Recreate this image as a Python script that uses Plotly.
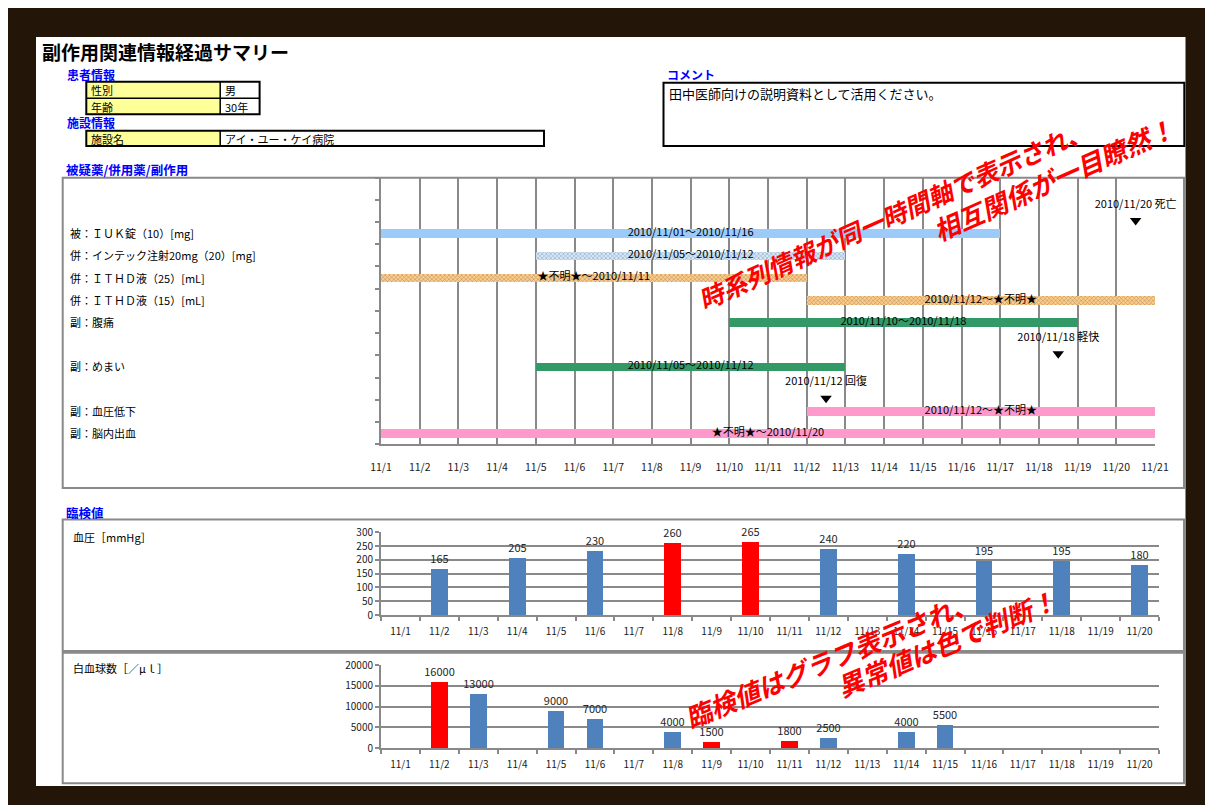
import plotly.graph_objects as go

# ---------------- data ----------------
title_text = "副作用関連情報経過サマリー"
patient_fields = ["性別", "年齢"]
patient_values = ["男", "30年"]
facility_fields = ["施設名"]
facility_values = ["アイ・ユー・ケイ病院"]
comment_text = "田中医師向けの説明資料として活用ください。"

# timeline rows (top to bottom); blank rows hold event markers
row_labels = ["", "", "被：ＩＵＫ錠（10）[mg]", "併：インテック注射20mg（20）[mg]",
              "併：ＩＴＨＤ液（25）[mL]", "併：ＩＴＨＤ液（15）[mL]", "副：腹痛", "",
              "副：めまい", "", "副：血圧低下", "副：脳内出血"]
bar_rows = ["被：ＩＵＫ錠（10）[mg]", "併：インテック注射20mg（20）[mg]",
            "併：ＩＴＨＤ液（25）[mL]", "併：ＩＴＨＤ液（15）[mL]", "副：腹痛",
            "副：めまい", "副：血圧低下", "副：脳内出血"]
bar_start_day = [1, 5, 1, 12, 10, 5, 12, 1]      # 11/x (unknown start -> 11/1)
bar_end_day = [16, 12, 11, 20, 18, 12, 20, 20]   # 11/x inclusive (unknown end -> 11/20)
bar_texts = ["2010/11/01～2010/11/16", "2010/11/05～2010/11/12", "★不明★～2010/11/11",
             "2010/11/12～★不明★", "2010/11/10～2010/11/18", "2010/11/05～2010/11/12",
             "2010/11/12～★不明★", "★不明★～2010/11/20"]

event_days = [20, 18, 12]
event_row_index = [1, 7, 9]
event_texts = ["2010/11/20 死亡", "2010/11/18 軽快", "2010/11/12 回復"]

timeline_ticks = ["11/1", "11/2", "11/3", "11/4", "11/5", "11/6", "11/7", "11/8", "11/9",
                  "11/10", "11/11", "11/12", "11/13", "11/14", "11/15", "11/16", "11/17",
                  "11/18", "11/19", "11/20", "11/21"]
timeline_tick_days = [1, 2, 3, 4, 5, 6, 7, 8, 9, 10, 11, 12, 13, 14, 15, 16, 17, 18, 19, 20, 21]

lab_dates = ["11/1", "11/2", "11/3", "11/4", "11/5", "11/6", "11/7", "11/8", "11/9", "11/10",
             "11/11", "11/12", "11/13", "11/14", "11/15", "11/16", "11/17", "11/18", "11/19", "11/20"]

bp_title = "血圧［mmHg］"
bp_dates = ["11/2", "11/4", "11/6", "11/8", "11/10", "11/12", "11/14", "11/16", "11/18", "11/20"]
bp_values = [165, 205, 230, 260, 265, 240, 220, 195, 195, 180]
bp_abnormal = [False, False, False, True, True, False, False, False, False, False]

wbc_title = "白血球数［／μｌ］"
wbc_dates = ["11/2", "11/3", "11/5", "11/6", "11/8", "11/9", "11/11", "11/12", "11/14", "11/15"]
wbc_values = [16000, 13000, 9000, 7000, 4000, 1500, 1800, 2500, 4000, 5500]
wbc_abnormal = [True, False, False, False, False, True, True, False, False, False]

callout_top = ["時系列情報が同一時間軸で表示され、", "相互関係が一目瞭然！"]
callout_bottom = ["臨検値はグラフ表示され、", "異常値は色で判断！"]

# ---------------- style ----------------
W, H = 1205, 797
OX, OY = 8, 8
def px(x): return (x - OX) / W
def py(y): return 1 - (y - OY) / H

FONT = "Noto Sans CJK JP"
BROWN = "#231507"
GRID = "#898989"
LINK = "#0000FF"
BAR_BLUE = "#4F81BD"
BAR_RED = "#FF0000"
bar_colors = ["#9DCBF9", "#D3E8FD", "#FFCC88", "#FFCC88", "#339966", "#339966", "#FF99CC", "#FF99CC"]
bar_patterns = ["", "x", "x", "x", "", "", "", ""]
bar_pattern_fg = ["#9DCBF9", "#C2DDF8", "#F7BE72", "#F7BE72", "#339966", "#339966", "#FF99CC", "#FF99CC"]

fig = go.Figure()

n_rows = len(row_labels)
def row_y(i): return n_rows - i - 0.5

bar_y = [row_y(row_labels.index(r)) for r in bar_rows]
bar_len = [e + 1 - s for s, e in zip(bar_start_day, bar_end_day)]

fig.add_trace(go.Bar(
    orientation="h", y=bar_y, x=bar_len, base=bar_start_day, width=0.38,
    marker=dict(color=bar_colors, line=dict(width=0),
                pattern=dict(shape=bar_patterns, fgcolor=bar_pattern_fg, fillmode="overlay",
                             size=3, solidity=0.3)),
    xaxis="x", yaxis="y", hoverinfo="skip"))

fig.add_trace(go.Scatter(
    x=[s + l / 2 for s, l in zip(bar_start_day, bar_len)], y=bar_y, mode="text",
    text=bar_texts, textfont=dict(size=11, color="black", family=FONT),
    cliponaxis=False, xaxis="x", yaxis="y", hoverinfo="skip"))

fig.add_trace(go.Scatter(
    x=[d + 0.5 for d in event_days], y=[row_y(i) - 0.43 for i in event_row_index],
    mode="markers", marker=dict(symbol="triangle-down", size=10, color="black"),
    cliponaxis=False, xaxis="x", yaxis="y", hoverinfo="skip"))
fig.add_trace(go.Scatter(
    x=[d + 0.5 for d in event_days], y=[row_y(i) + 0.27 for i in event_row_index],
    mode="text", text=event_texts, textfont=dict(size=11, color="black", family=FONT),
    cliponaxis=False, xaxis="x", yaxis="y", hoverinfo="skip"))

fig.add_trace(go.Bar(
    x=bp_dates, y=bp_values, width=0.43,
    marker=dict(color=[BAR_RED if a else BAR_BLUE for a in bp_abnormal], line=dict(width=0)),
    text=bp_values, textposition="outside", constraintext="none", cliponaxis=False,
    textfont=dict(size=11, color="#262626", family=FONT),
    xaxis="x2", yaxis="y2", hoverinfo="skip"))

fig.add_trace(go.Bar(
    x=wbc_dates, y=wbc_values, width=0.43,
    marker=dict(color=[BAR_RED if a else BAR_BLUE for a in wbc_abnormal], line=dict(width=0)),
    text=wbc_values, textposition="outside", constraintext="none", cliponaxis=False,
    textfont=dict(size=11, color="#262626", family=FONT),
    xaxis="x3", yaxis="y3", hoverinfo="skip"))

common_lab_x = dict(type="category", categoryorder="array", categoryarray=lab_dates,
                    range=[-0.5, len(lab_dates) - 0.5], tickson="boundaries", ticks="outside",
                    ticklen=4, tickcolor=GRID, tickwidth=1.5, showline=True, linecolor=GRID,
                    linewidth=2, showgrid=False, zeroline=False, ticklabelstandoff=6,
                    tickfont=dict(size=10, color="#1a1a1a", family=FONT), fixedrange=True,
                    domain=[px(381), px(1159)], automargin=False)
common_lab_y = dict(showgrid=True, gridcolor=GRID, gridwidth=2, ticks="outside", ticklen=4,
                    tickcolor=GRID, tickwidth=1.5, showline=True, linecolor=GRID, linewidth=2,
                    zeroline=False, tickfont=dict(size=10, color="#1a1a1a", family=FONT),
                    tickformat="d", fixedrange=True, automargin=False)

fig.update_layout(
    width=W, height=H, margin=dict(l=0, r=0, t=0, b=0, pad=0, autoexpand=False),
    paper_bgcolor=BROWN, plot_bgcolor="rgba(0,0,0,0)", showlegend=False,
    font=dict(family=FONT, color="black"), bargap=0,
    xaxis=dict(domain=[px(381), px(1155)], range=[1, 21], tickmode="array",
               tickvals=timeline_tick_days, ticktext=timeline_ticks, showgrid=True,
               gridcolor=GRID, gridwidth=2, showline=True, linecolor=GRID, linewidth=2,
               ticks="outside", ticklen=12, tickcolor="rgba(0,0,0,0)", zeroline=False,
               tickfont=dict(size=10.5, color="#1a1a1a", family=FONT), anchor="y",
               fixedrange=True, automargin=False),
    yaxis=dict(domain=[py(444.3), py(177.5)], range=[0, n_rows], tickmode="array",
               tickvals=list(range(0, n_rows + 1)), ticks="outside", ticklen=4,
               tickcolor=GRID, tickwidth=1.5, showticklabels=False, showgrid=False,
               showline=True, linecolor=GRID, linewidth=2, zeroline=False, anchor="x",
               fixedrange=True, automargin=False),
    xaxis2=dict(anchor="y2", **common_lab_x),
    yaxis2=dict(anchor="x2", domain=[py(615), py(532.3)], range=[0, 300],
                tickvals=[0, 50, 100, 150, 200, 250, 300], **common_lab_y),
    xaxis3=dict(anchor="y3", **common_lab_x),
    yaxis3=dict(anchor="x3", domain=[py(748.3), py(665)], range=[0, 20000],
                tickvals=[0, 5000, 10000, 15000, 20000], **common_lab_y),
)

shapes = []
def rect(x0, y0, x1, y1, line_color=None, width=0, fill=None):
    shapes.append(dict(type="rect", xref="paper", yref="paper", x0=px(x0), x1=px(x1),
                       y0=py(y1), y1=py(y0), layer="below",
                       line=dict(color=line_color or "rgba(0,0,0,0)", width=width),
                       fillcolor=fill or "rgba(0,0,0,0)"))
def hline(x0, x1, y, color, width):
    shapes.append(dict(type="line", xref="paper", yref="paper", x0=px(x0), x1=px(x1),
                       y0=py(y), y1=py(y), layer="below", line=dict(color=color, width=width)))
def vline(x, y0, y1, color, width):
    shapes.append(dict(type="line", xref="paper", yref="paper", x0=px(x), x1=px(x),
                       y0=py(y0), y1=py(y1), layer="below", line=dict(color=color, width=width)))

rect(36, 37, 1185.5, 786, fill="white")
rect(62.7, 177.7, 1184, 488, GRID, 2)
rect(62.7, 519.5, 1184, 651, GRID, 2)
rect(62.7, 652.7, 1184, 783.3, GRID, 2)
# patient table
rect(86.3, 81.7, 220.2, 114.3, fill="#FFFF99")
rect(86.3, 81.7, 259.6, 114.3, "black", 2)
hline(86.3, 259.6, 98.3, "black", 1.5)
vline(220.2, 81.7, 114.3, "black", 1.5)
# facility table
rect(86.3, 130.7, 220.2, 146, fill="#FFFF99")
rect(86.3, 130.7, 544, 146, "black", 2)
vline(220.2, 130.7, 146, "black", 1.5)
# comment box
rect(663.5, 82.7, 1184.3, 146, "black", 2)

ann = []
def text(x, y, s, size=11, color="black", bold=False, xanchor="left"):
    ann.append(dict(xref="paper", yref="paper", x=px(x), y=py(y), text=f"<b>{s}</b>" if bold else s,
                    showarrow=False, xanchor=xanchor, yanchor="middle",
                    font=dict(size=size, color=color, family=FONT)))

text(40, 51, title_text, 19, bold=True)
text(65, 75, "患者情報", 12, LINK, True)
text(65, 122.5, "施設情報", 12, LINK, True)
text(665, 75, "コメント", 12, LINK, True)
text(64, 170, "被疑薬/併用薬/副作用", 12.5, LINK, True)
text(64, 512, "臨検値", 12.5, LINK, True)
for i, (f, v) in enumerate(zip(patient_fields, patient_values)):
    text(89, 90.3 + i * 16.3, f, 11)
    text(222.5, 90.3 + i * 16.3, v, 11)
for f, v in zip(facility_fields, facility_values):
    text(89, 138.8, f, 11)
    text(222.5, 138.8, v, 11)
text(667, 93, comment_text, 13)
text(71, 537, bp_title, 11)
text(71, 668, wbc_title, 11)

for i, lab in enumerate(row_labels):
    if lab:
        ann.append(dict(xref="paper", yref="y", x=px(68), y=row_y(i), text=lab, showarrow=False,
                        xanchor="left", yanchor="middle",
                        font=dict(size=11, color="black", family=FONT)))

def callout(x, y, s, size, angle):
    ann.append(dict(xref="paper", yref="paper", x=px(x), y=py(y), text=f"<b><i>{s}</i></b>",
                    showarrow=False, xanchor="center", yanchor="middle", textangle=angle,
                    font=dict(size=size, color="#FF0000", family=FONT)))

callout(893, 214, callout_top[0], 25, -24)
callout(1053, 178, callout_top[1], 26, -24)
callout(830, 658, callout_bottom[0], 26, -22.5)
callout(946, 642, callout_bottom[1], 26, -22.5)

fig.update_layout(shapes=shapes, annotations=ann)
fig.write_html("out.html")
